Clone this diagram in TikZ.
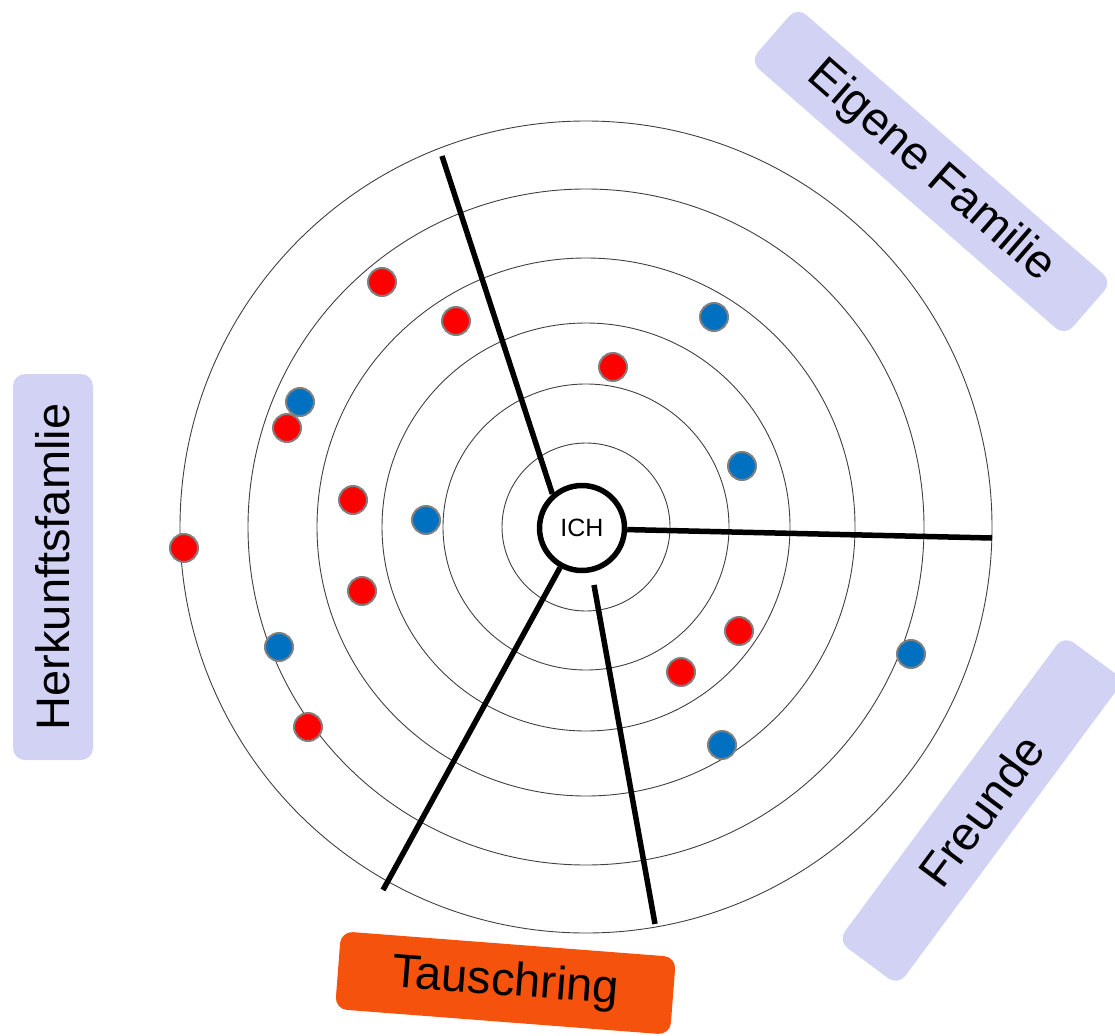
\documentclass[tikz,border=0pt]{standalone}
\usepackage{fontspec}
\setmainfont{Liberation Sans}
\definecolor{lav}{RGB}{210,210,244}
\definecolor{orng}{RGB}{244,82,13}
\definecolor{dotred}{RGB}{255,0,0}
\definecolor{dotblue}{RGB}{0,112,192}
\begin{document}
\begin{tikzpicture}[x=1pt,y=-1pt,
  ring/.style={draw=black!75, line width=0.9pt},
  divider/.style={line width=5.5pt, line cap=butt},
  catlabel/.style={rounded corners=12pt, inner sep=0pt, font=\fontsize{47}{52}\selectfont},
  catbox/.style={catlabel, fill=lav},
  dot/.style={circle, draw=gray, line width=2pt, inner sep=0pt, minimum size=28pt},
  rdot/.style={dot, fill=dotred},
  bdot/.style={dot, fill=dotblue}]

\useasboundingbox (0,0) rectangle (1115,1035);

% concentric rings
\coordinate (c) at (586,527);
\foreach \r in {84,143,204,269,338,406}
  \draw[ring] (c) circle[radius=\r];

% centre
\node[circle, draw, line width=5.5pt, fill=white, minimum size=85pt, inner sep=0pt,
      font=\fontsize{25}{28}\selectfont] (ich) at (582,528) {ICH};

% sector dividers
\coordinate (t1) at (442,156);
\coordinate (t2) at (992,538);
\coordinate (t3) at (383,890);
\coordinate (s4) at (594,585);
\coordinate (t4) at (655,924);
\draw[divider] (ich.131) -- (t1);
\draw[divider] (ich.-2) -- (t2);
\draw[divider] (ich.241) -- (t3);
\draw[divider] (s4) -- (t4);

% people
\node[rdot] (r1) at (382,282) {};
\node[rdot] (r2) at (456,321) {};
\node[rdot] (r3) at (613,367) {};
\node[bdot] (b2) at (300,402) {};
\node[rdot] (r4) at (287,428) {};
\node[rdot] (r5) at (353,500) {};
\node[rdot] (r6) at (184,548) {};
\node[rdot] (r7) at (362,591) {};
\node[rdot] (r8) at (739,631) {};
\node[rdot] (r9) at (681,672) {};
\node[rdot] (r10) at (308,727) {};
\node[bdot] (b1) at (714,317) {};
\node[bdot] (b3) at (742,466) {};
\node[bdot] (b4) at (426,520) {};
\node[bdot] (b5) at (279,647) {};
\node[bdot] (b6) at (911,654) {};
\node[bdot] (b7) at (722,745) {};

% sector labels
\node[catbox, minimum width=418pt, minimum height=72pt, rotate=-41.1] (eig) at (931,171.5) {Eigene Familie};
\node[catbox, minimum width=380pt, minimum height=75pt, rotate=53.5] (fre) at (981,810.5) {Freunde};
\node[catbox, minimum width=386pt, minimum height=80pt, rotate=90] (her) at (53,567) {Herkunftsfamlie};
\node[catlabel, fill=orng, minimum width=336pt, minimum height=78pt, rotate=-4.4] (tau) at (505.5,983) {Tauschring};
\end{tikzpicture}
\end{document}
